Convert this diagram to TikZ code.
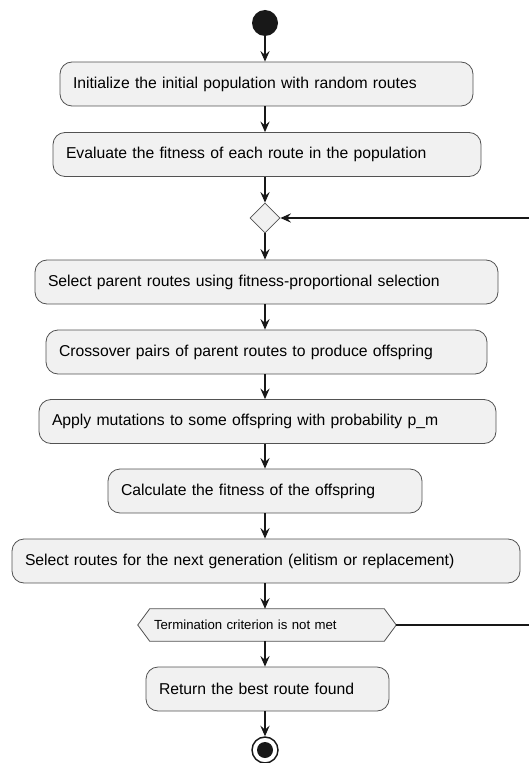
\documentclass[tikz,border=0pt]{standalone}
\usepackage{fontspec}
\setmainfont{Liberation Sans}
\usetikzlibrary{arrows.meta,shapes.geometric,backgrounds}
\definecolor{actfill}{HTML}{F1F1F1}
\definecolor{actline}{HTML}{181818}
\tikzset{
  act/.style={rectangle,rounded corners=9pt,draw=actline!75,fill=actfill,line width=0.6pt,
    minimum height=33pt,inner xsep=9.75pt,text width=#1,align=left,
    font=\fontsize{11.8}{13}\selectfont},
  flow/.style={actline,line width=0.8pt,-{Stealth[length=8pt,width=7pt,inset=3pt]}},
}
\begin{document}
\begin{tikzpicture}[x=0.75pt,y=-0.75pt]
                \useasboundingbox (0,0) rectangle (528,763);
                \node [circle,fill=actline,minimum size=19.5pt,inner sep=0pt] (start) at (265,23) {};
                \node [act=290.25pt] (init) at (266.5,84) {Initialize the initial population with random routes};
                \node [act=301.5pt] (eval) at (267,154.5) {Evaluate the fitness of each route in the population};
                \node [diamond,draw=actline!75,fill=actfill,line width=0.6pt,minimum size=22.5pt,inner sep=0pt] (merge) at (265,218) {};
                \node [act=327.75pt] (select) at (266.5,282) {Select parent routes using fitness-proportional selection};
                \node [act=311.25pt] (cross) at (266.5,352) {Crossover pairs of parent routes to produce offspring};
                \node [act=323.25pt] (mutate) at (267.5,421.5) {Apply mutations to some offspring with probability p\_m};
                \node [act=216pt] (calc) at (265,491) {Calculate the fitness of the offspring};
                \node [act=361.5pt] (next) at (266,561) {Select routes for the next generation (elitism or replacement)};
                \node [rectangle,minimum height=24pt,inner xsep=3pt,text width=169.5pt,align=left,
                    font=\fontsize{9.9}{11}\selectfont] (cond) at (267,625) {Termination criterion is not met};
                \begin{scope}[on background layer]
                    \draw [draw=actline!75,fill=actfill,line width=0.6pt]
                        ([xshift=-9pt]cond.west) -- (cond.north west) -- (cond.north east)
                        -- ([xshift=9pt]cond.east) -- (cond.south east) -- (cond.south west) -- cycle;
                \end{scope}
                \node [act=162.75pt] (best) at (267.5,689) {Return the best route found};
                \node [circle,draw=actline,line width=1.1pt,minimum size=19.5pt,inner sep=0pt] (stop) at (265,750) {};
                \fill [actline] (stop) circle (6pt);
                % main flow
                \draw [flow] (start) -- (start |- init.north);
                \draw [flow] (start |- init.south) -- (start |- eval.north);
                \draw [flow] (start |- eval.south) -- (merge);
                \draw [flow] (merge) -- (merge |- select.north);
                \draw [flow] (merge |- select.south) -- (merge |- cross.north);
                \draw [flow] (merge |- cross.south) -- (merge |- mutate.north);
                \draw [flow] (merge |- mutate.south) -- (merge |- calc.north);
                \draw [flow] (merge |- calc.south) -- (merge |- next.north);
                \draw [flow] (merge |- next.south) -- (merge |- cond.north);
                \draw [flow] (merge |- cond.south) -- (merge |- best.north);
                \draw [flow] (merge |- best.south) -- (stop);
                % back loop, its right side lies just past the page edge
                \coordinate (tip) at ([xshift=9pt]cond.east);
                \coordinate (corner) at (529.5,625);
                \draw [flow] (tip) -- (corner) |- (merge.east);
            \end{tikzpicture}
\end{document}
